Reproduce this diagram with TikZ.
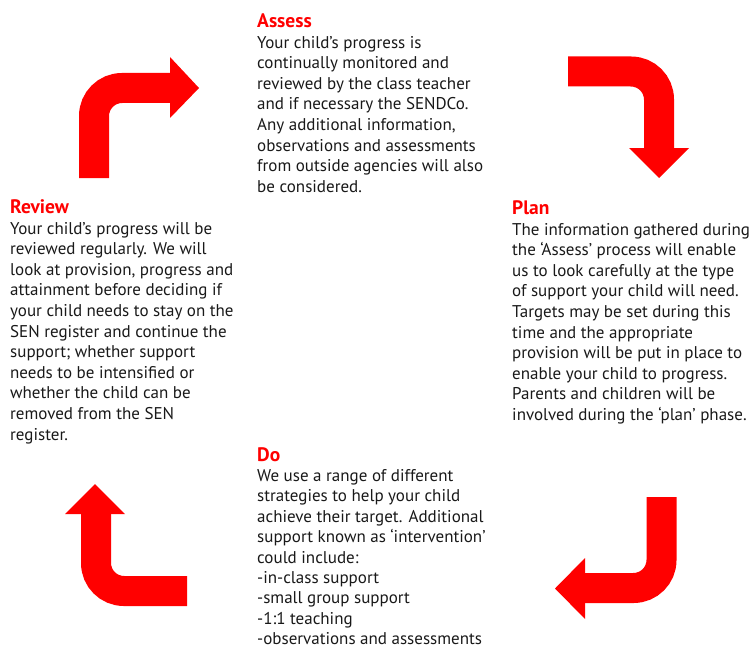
\documentclass[tikz,border=0pt]{standalone}
\usepackage{fontspec}
\setmainfont{PT Sans}
\newcommand{\hdtext}[1]{{\color{red}\fontsize{19.5}{20.6}\selectfont\bfseries #1}}
\begin{document}
\begin{tikzpicture}[x=1pt,y=-1pt,
  txt/.style={anchor=north west, inner sep=0pt, align=left, text=black!90,
    font=\fontsize{17}{20.6}\selectfont},
  bendarrow/.style={draw=red, line width=30pt, rounded corners=28pt},
  arrowtip/.style={fill=red, draw=none}]
\useasboundingbox (0,0) rectangle (752,650);

% texts (north = first baseline minus heading cap height)
\node[txt] (assess) at (257,13.5) {\hdtext{Assess}\\
Your child’s progress is\\
continually monitored and\\
reviewed by the class teacher\\
and if necessary the SENDCo.\\
Any additional information,\\
observations and assessments\\
from outside agencies will also\\
be considered.};

\node[txt] (review) at (10,199.5) {\hdtext{Review}\\
Your child’s progress will be\\
reviewed regularly. We will\\
look at provision, progress and\\
attainment before deciding if\\
your child needs to stay on the\\
SEN register and continue the\\
support; whether support\\
needs to be intensified or\\
whether the child can be\\
removed from the SEN\\
register.};

\node[txt] (plan) at (512,200.5) {\hdtext{Plan}\\
The information gathered during\\
the ‘Assess’ process will enable\\
us to look carefully at the type\\
of support your child will need.\\
Targets may be set during this\\
time and the appropriate\\
provision will be put in place to\\
enable your child to progress.\\
Parents and children will be\\
involved during the ‘plan’ phase.};

\node[txt, font=\fontsize{17}{20.4}\selectfont] (do) at (257,447) {\hdtext{Do}\\
We use a range of different\\
strategies to help your child\\
achieve their target. Additional\\
support known as ‘intervention’\\
could include:\\
-in-class support\\
-small group support\\
-1:1 teaching\\
-observations and assessments};

% arrow 1: Review -> Assess
\coordinate (a1s) at (94,178);
\coordinate (a1c) at (94,88);
\coordinate (a1e) at (171,88);
\draw[bendarrow] (a1s) -- (a1c) -- (a1e);
\fill[arrowtip] (170,57) -- (199,88) -- (170,118) -- cycle;

% arrow 2: Assess -> Plan
\coordinate (a2s) at (568,71.5);
\coordinate (a2c) at (659,71.5);
\coordinate (a2e) at (659,149);
\draw[bendarrow] (a2s) -- (a2c) -- (a2e);
\fill[arrowtip] (629,148) -- (689,148) -- (659,178) -- cycle;

% arrow 3: Plan -> Do
\coordinate (a3s) at (661.5,497);
\coordinate (a3c) at (661.5,588);
\coordinate (a3e) at (584,588);
\draw[bendarrow] (a3s) -- (a3c) -- (a3e);
\fill[arrowtip] (585,558) -- (585,619) -- (555,588.5) -- cycle;

% arrow 4: Do -> Review
\coordinate (a4s) at (187,591);
\coordinate (a4c) at (96,591);
\coordinate (a4e) at (96,513);
\draw[bendarrow] (a4s) -- (a4c) -- (a4e);
\fill[arrowtip] (65,514) -- (125,514) -- (95,484) -- cycle;
\end{tikzpicture}
\end{document}
